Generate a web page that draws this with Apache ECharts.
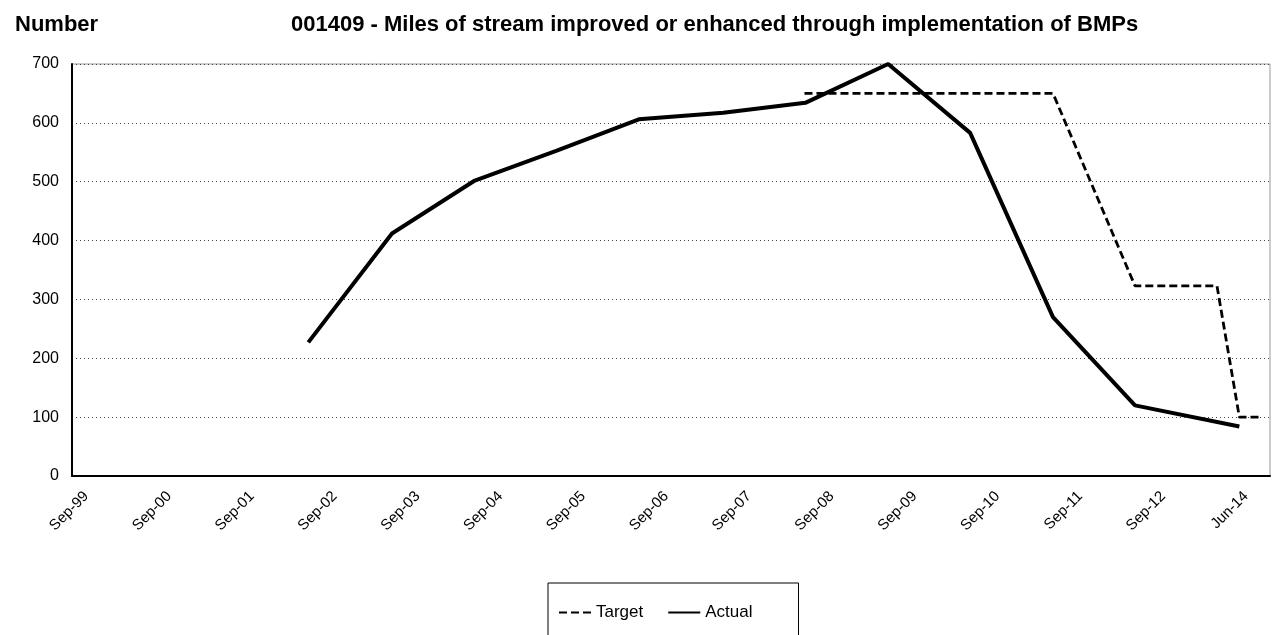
<!DOCTYPE html>
<html>
<head>
<meta charset="utf-8">
<script src="https://cdn.jsdelivr.net/npm/echarts@6/dist/echarts.min.js"></script>
<style>
  html, body { margin: 0; padding: 0; background: #fff; }
  #chart { width: 1278px; height: 635px; }
</style>
</head>
<body>
<div id="chart"></div>
<script>
// tick labels sit at positions 0..14 on the x axis
var tickLabels = ['Sep-99', 'Sep-00', 'Sep-01', 'Sep-02', 'Sep-03', 'Sep-04', 'Sep-05',
  'Sep-06', 'Sep-07', 'Sep-08', 'Sep-09', 'Sep-10', 'Sep-11', 'Sep-12', 'Jun-14'];

// positions, in tick units
var actualX = [2.68, 3.69, 4.69, 5.68, 6.67, 7.69, 8.68, 9.68, 10.67, 11.67, 12.66, 13.92];
var actualY = [227, 412, 502, 553, 606, 617, 634, 700, 583, 270, 120, 84];

var targetX = [8.67, 11.67, 12.66, 13.65, 13.92, 14.17];
var targetY = [650, 650, 323, 323, 100, 100];

function pairs(xs, ys) {
  var out = [];
  for (var i = 0; i < xs.length; i++) {
    out.push([xs[i], ys[i]]);
  }
  return out;
}

var tickValues = tickLabels.map(function (l, i) { return i; });
var font = 'Liberation Sans, Arial, sans-serif';

var option = {
  backgroundColor: '#fff',
  animation: false,
  textStyle: { fontFamily: font },
  title: [{
    text: 'Number',
    left: 10,
    top: 9,
    textStyle: { fontSize: 22, fontWeight: 'bold', color: '#000', fontFamily: font }
  }, {
    text: '001409 - Miles of stream improved or enhanced through implementation of BMPs',
    left: 286,
    top: 9,
    textStyle: { fontSize: 22, fontWeight: 'bold', color: '#000', fontFamily: font }
  }],
  legend: {
    data: ['Target', 'Actual'],
    left: 548,
    top: 583,
    orient: 'horizontal',
    borderColor: '#000',
    borderWidth: 1,
    padding: [21, 46, 40, 10],
    itemWidth: 32,
    itemHeight: 16,
    itemGap: 24,
    itemStyle: { opacity: 0 },
    textStyle: { fontSize: 17, color: '#000', fontFamily: font }
  },
  grid: {
    left: 72,
    right: 8,
    top: 64,
    bottom: 159,
    show: true,
    borderColor: '#999',
    borderWidth: 1
  },
  xAxis: {
    type: 'value',
    min: -0.173,
    max: 14.29,
    splitLine: { show: false },
    axisTick: { show: false },
    axisLine: { show: true, onZero: false, lineStyle: { color: '#000', width: 2 } },
    axisLabel: {
      customValues: tickValues,
      rotate: 45,
      margin: 18,
      fontSize: 15,
      color: '#000',
      fontFamily: font,
      formatter: function (v) { return tickLabels[Math.round(v)]; }
    }
  },
  yAxis: {
    type: 'value',
    min: 0,
    max: 700,
    interval: 100,
    axisTick: { show: false },
    axisLine: { show: true, onZero: false, lineStyle: { color: '#000', width: 2 } },
    axisLabel: { fontSize: 16, color: '#000', margin: 13, fontFamily: font },
    splitLine: { show: true, lineStyle: { color: '#444', type: [1, 3], width: 1 } }
  },
  series: [{
    name: 'Target',
    type: 'line',
    symbol: 'none',
    data: pairs(targetX, targetY),
    itemStyle: { color: '#000' },
    lineStyle: { color: '#000', width: 2.8, type: [8, 4] }
  }, {
    name: 'Actual',
    type: 'line',
    symbol: 'none',
    data: pairs(actualX, actualY),
    itemStyle: { color: '#000' },
    lineStyle: { color: '#000', width: 4 }
  }]
};

var myChart = echarts.init(document.getElementById('chart'));
myChart.setOption(option);
</script>
</body>
</html>
